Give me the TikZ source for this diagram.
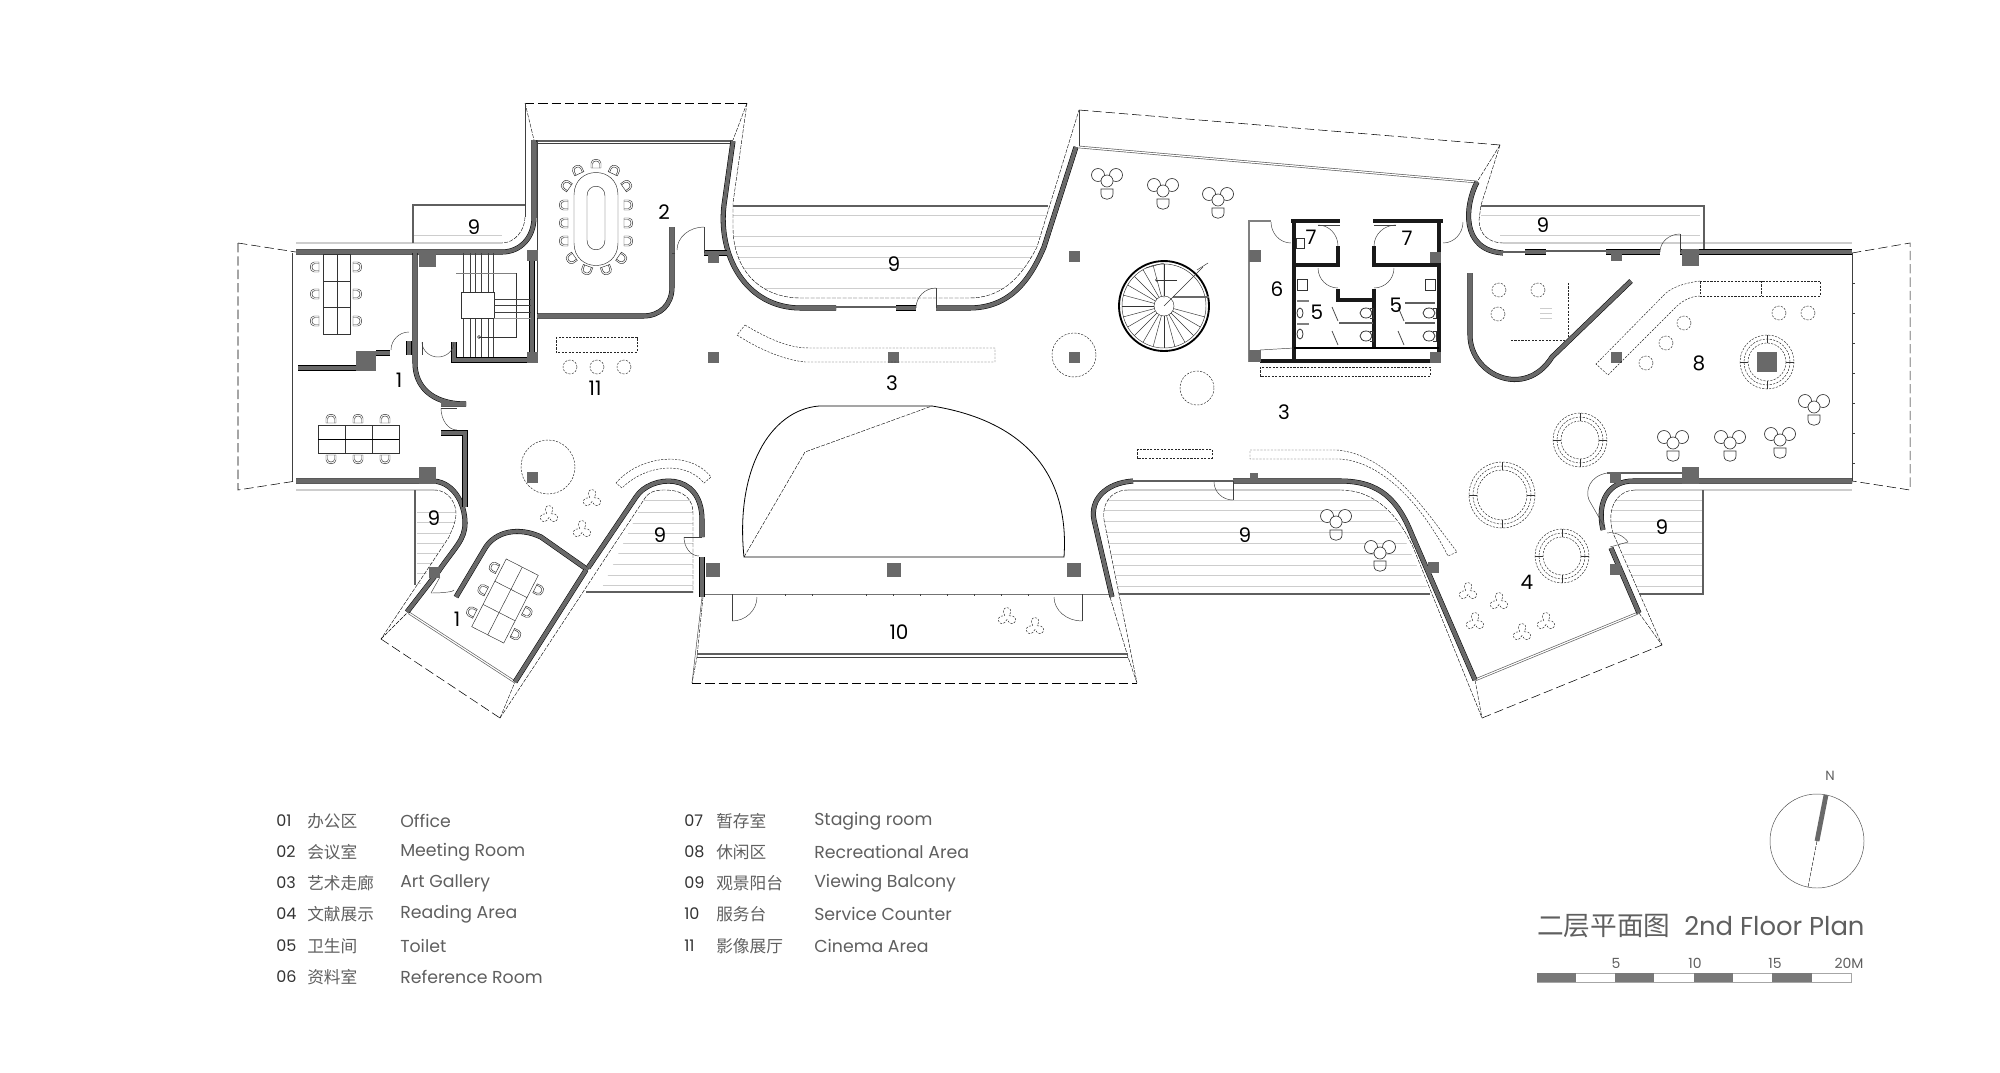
\documentclass[tikz,border=0pt]{standalone}
\usepackage{fontspec}
\setmainfont{Poppins}
\newfontfamily\cjk{Noto Sans CJK SC}
\usetikzlibrary{calc}
\definecolor{wallgray}{RGB}{105,105,105}
\definecolor{railgray}{RGB}{95,95,95}
\definecolor{hatchgray}{RGB}{205,205,205}
\definecolor{textgray}{RGB}{95,95,95}
\tikzset{every picture/.style={line width=0.4pt}}
\tikzset{
  wall/.style={draw=black,double=wallgray,double distance=3pt,line width=0.4pt},
  blackwall/.style={draw=black!90,line width=2.3pt},
  rail/.style={draw=railgray,line width=1pt},
  railpair/.style={draw=railgray,double=white,double distance=0.9pt,line width=0.5pt},
  palerail/.style={draw=hatchgray,line width=1.1pt},
  hatch/.style={draw=hatchgray,line width=0.5pt},
  thin line/.style={draw=black!75,line width=0.35pt},
  roof/.style={draw=black,line width=0.4pt,dash pattern={on 7pt off 3pt}},
  edge dash/.style={draw=black,line width=0.3pt,dash pattern={on 3pt off 1pt}},
  fine dash/.style={draw=black!85,line width=0.35pt,dash pattern={on 1.6pt off 1pt}},
  furn/.style={draw=black!80,line width=0.35pt},
  pillar/.style={fill=wallgray,draw=none,inner sep=0pt},
  room/.style={font=\fontsize{15}{15}\selectfont,text=black,inner sep=0pt},
  legnum/.style={font=\fontsize{12}{12}\selectfont,text=black!80,anchor=west,inner sep=0pt},
  legcn/.style={font=\cjk\fontsize{12.5}{12.5}\selectfont,text=textgray,anchor=west,inner sep=0pt},
  legen/.style={font=\fontsize{13}{13}\selectfont,text=textgray,anchor=west,inner sep=0pt},
  scalenum/.style={font=\fontsize{10.5}{10.5}\selectfont,text=textgray,inner sep=0pt},
}
% door swing: start, corner, end
\newcommand{\doorswing}[3]{\draw[thin line] (#1) .. controls ($(#1)!.55!(#2)$) and ($(#3)!.55!(#2)$) .. (#3);}
% ring of seats
\newcommand{\seatring}[3]{\draw[fine dash] (#1,#2) circle (#3); \draw[fine dash] (#1,#2) circle ({#3-4}); \draw[fine dash] (#1,#2) circle ({#3-8});
  \foreach \a in {0,90,180,270} \draw[furn] ($(#1,#2)+(\a:#3-8)$) -- ($(#1,#2)+(\a:#3)$);}
% chair: x, y, turn
\newcommand{\chairat}[3]{\begin{scope}[shift={(#1,#2)},rotate=#3]
  \draw[furn,fill=white] (-5,3) -- (-5,-2) .. controls (-5,-7) and (5,-7) .. (5,-2) -- (5,3) -- cycle;
  \draw[furn] (-3.5,3) -- (-3.5,-1) .. controls (-3.5,-5) and (3.5,-5) .. (3.5,-1) -- (3.5,3);
\end{scope}}
% round table with three seats
\newcommand{\tableset}[2]{\begin{scope}[shift={(#1,#2)}]
  \draw[furn,line width=0.5pt,fill=white] (-9,-6) circle (6.5);
  \draw[furn,line width=0.5pt,fill=white] (9,-6) circle (6.5);
  \draw[furn,line width=0.5pt,fill=white] (0,0) circle (6);
  \draw[furn,line width=0.5pt] (-6,8) -- (6,8) -- (6,13) .. controls (6,20) and (-6,20) .. (-6,13) -- cycle;
\end{scope}}
% roof seat outline
\newcommand{\trefoil}[2]{\begin{scope}[shift={(#1,#2)}]
  \draw[fine dash] (-2.2,-1.3) .. controls (-9,-12) and (9,-12) .. (2.2,-1.3) .. controls (14.89,-1.79) and (5.89,13.79) .. (0,2.5) .. controls (-5.89,13.79) and (-14.89,-1.79) .. (-2.2,-1.3) -- cycle;
\end{scope}}
\begin{document}
\begin{tikzpicture}[x=0.75pt,y=0.75pt,yscale=-1,xscale=1]
\useasboundingbox (0,0) rectangle (2000,1072);

%Hatch of the balconies
\begin{scope}
\clip (733,206) -- (733,227) .. controls (733,270) and (760,298) .. (801,298) -- (969,298) .. controls (1000,298) and (1020,280) .. (1037,247) -- (1050,206) -- cycle;
\foreach \y in {215,236,246,257,268,288} \draw[hatch] (720,\y) -- (1060,\y);
\end{scope}
\begin{scope}
\clip (1128,490) -- (1340,490) .. controls (1375,490) and (1395,515) .. (1405,540) -- (1430,594) -- (1119,594) -- (1105,530) .. controls (1100,505) and (1110,490) .. (1128,490) -- cycle;
\foreach \y in {500,510,521,532,543,554,565,575,586} \draw[hatch] (1095,\y) -- (1440,\y);
\end{scope}
\begin{scope}
\clip (1635,490) -- (1703,490) -- (1703,594) -- (1639,594) -- (1610,520) .. controls (1608,505) and (1620,490) .. (1635,490) -- cycle;
\foreach \y in {500,510,521,532,543,554,565,575,586} \draw[hatch] (1600,\y) -- (1710,\y);
\end{scope}
\begin{scope}
\clip (417,490) -- (434,490) .. controls (450,490) and (456,505) .. (456,513) .. controls (456,525) and (449,535) .. (440,550) -- (417,590) -- cycle;
\foreach \y in {512,522,533,543,553,563,573,583} \draw[hatch] (417,\y) -- (460,\y);
\end{scope}
\begin{scope}
\clip (600,592) -- (693,592) -- (693,513) .. controls (693,495) and (680,490) .. (665,490) .. controls (655,490) and (648,490) .. (645,498) -- cycle;
\foreach \y in {500,512,523,533,543,553,564,575,585} \draw[hatch] (590,\y) -- (700,\y);
\end{scope}
\draw[hatch] (413,235) -- (502,235);
\draw[hatch] (1481,215) -- (1700,215);
\draw[hatch] (1500,235) -- (1700,235);

%Roof overhang
\draw[roof] (238,243) -- (296,252);
\draw[roof] (238,243) -- (238,490) -- (296,481);
\draw[roof] (525,103) -- (747,103);
\draw[edge dash] (525,103) -- (534,140);
\draw[edge dash] (747,103) -- (733,140);
\draw[roof] (1079,110) -- (1500,145);
\draw[thin line] (1079,110) -- (1079,147);
\draw[edge dash] (1500,145) -- (1477,182);
\draw[roof] (1852,253) -- (1910,243) -- (1910,490) -- (1852,481);
\draw[roof] (692,683) -- (1137,683);
\draw[edge dash] (703,597) -- (697,657) -- (692,683);
\draw[edge dash] (1110,597) -- (1128,657) -- (1137,683);
\draw[roof] (381,639) -- (500,718);
\draw[edge dash] (381,639) -- (407,613);
\draw[edge dash] (500,718) -- (515,682);
\draw[roof] (1482,718) -- (1662,645);
\draw[edge dash] (1475,680) -- (1482,718);
\draw[edge dash] (1639,613) -- (1662,645);

%Inner edges of the balconies
\draw[thin line] (525,103) -- (525,217);
\draw[edge dash] (525,217) .. controls (525,230) and (515,243) .. (502,243);
\draw[palerail] (296,243) -- (502,243);
\draw[palerail] (296,490) -- (434,490);
\draw[edge dash] (434,490) .. controls (450,490) and (456,505) .. (456,513) .. controls (456,525) and (449,535) .. (449,537) -- (381,639);
\draw[edge dash] (747,103) -- (733,203) -- (733,227) .. controls (733,270) and (760,298) .. (801,298) -- (969,298) .. controls (1000,298) and (1020,280) .. (1037,247) -- (1079,110);
\draw[edge dash] (1500,145) -- (1481,205) -- (1479,220) .. controls (1479,235) and (1490,243) .. (1503,243);
\draw[palerail] (1503,243) -- (1852,243);
\draw[palerail] (1128,490) -- (1340,490);
\draw[edge dash] (1128,490) .. controls (1110,490) and (1100,505) .. (1105,525) -- (1137,683);
\draw[edge dash] (1340,490) .. controls (1375,490) and (1398,515) .. (1413,547) -- (1482,718);
\draw[palerail] (1635,490) -- (1852,490);
\draw[edge dash] (1635,490) .. controls (1620,490) and (1605,505) .. (1613,533) -- (1662,645);
\draw[edge dash] (500,718) -- (645,498) .. controls (650,490) and (660,490) .. (665,490) .. controls (685,490) and (693,500) .. (693,513) -- (693,593);
\draw[thin line] (702,597) -- (692,683);

%Balcony rails
\draw[rail] (413,243) -- (413,205) -- (525,205);
\draw[rail] (415,490) -- (415,585);
\draw[rail] (586,592) -- (693,592);
\draw[rail] (733,206) -- (1048,206);
\draw[rail] (1119,594) -- (1430,594);
\draw[rail] (1639,594) -- (1703,594) -- (1703,490);
\draw[rail] (1481,206) -- (1704,206) -- (1704,250);
\draw[rail] (534,141) -- (733,141);
\draw[thin line] (537,143) -- (731,143);
\draw[railpair] (1079,147) -- (1477,182);
\draw[railpair] (409,613) -- (515,682);
\draw[railpair] (1475,680) -- (1638,613);
\draw[rail] (697,654) -- (1128,654);
\draw[thin line] (697,657) -- (1128,657);
\draw[thin line,draw=black!55] (703,594) -- (1110,594);
\foreach \x in {785,812,866,893,920,947,974,1001,1028} \draw[thin line] (\x,594) -- (\x,596);
\draw[thin line] (292,253) -- (292,481);
\draw[thin line] (1852,253) -- (1852,481);
\foreach \y in {283,313,343,373,403,433,463} \draw[thin line] (1852,\y) -- (1855,\y);

%Outer walls
\draw[wall] (296,252) -- (502,252) .. controls (520,252) and (534,238) .. (534,217) -- (534,140);
\draw[wall] (733,141) -- (724,205) .. controls (718,255) and (745,308) .. (801,308) -- (836,308);
\draw[rail] (836,307) -- (896,307);
\draw[wall] (896,308) -- (916,308);
\draw[wall] (936,308) -- (969,308) .. controls (1010,308) and (1030,280) .. (1044,247) -- (1076,147);
\draw[wall] (1477,182) .. controls (1465,205) and (1460,250) .. (1503,253);
\draw[rail] (1503,252) -- (1525,252);
\draw[wall] (1525,252) -- (1546,252);
\draw[rail] (1546,251) -- (1606,251);
\draw[wall] (1606,252) -- (1660,252);
\draw[wall] (1680,252) -- (1852,252);
\draw[wall] (296,481) -- (434,481) .. controls (455,483) and (465,505) .. (465,523) .. controls (465,540) and (455,547) .. (438,572) -- (407,612);
\draw[wall] (465,507) -- (465,433) -- (441,433);
\draw[wall] (415,253) -- (415,363) .. controls (415,385) and (430,404) .. (466,404) -- (441,404);
\draw[wall] (456,597) -- (484,550) .. controls (495,530) and (520,527) .. (541,537) -- (588,570);
\draw[wall] (586,570) -- (515,682);
\draw[wall] (588,568) -- (636,497) .. controls (650,475) and (702,470) .. (702,520) -- (702,537);
\draw[wall] (702,557) -- (702,597);
\draw[rail] (1133,481) -- (1233,481);
\draw[wall] (1133,481) .. controls (1105,483) and (1090,500) .. (1094,520) -- (1112,597);
\draw[wall] (1233,481) -- (1340,481) .. controls (1380,481) and (1398,500) .. (1412,535) -- (1475,680);
\draw[wall] (1603,530) .. controls (1596,500) and (1610,481) .. (1633,481) -- (1852,481);
\draw[wall] (1611,548) -- (1639,613);
\draw[wall] (298,368) -- (356,368);
\draw[wall] (376,353) -- (390,353);
\draw[wall] (532,255) -- (532,360) -- (454,360) -- (454,342);
\draw[thin line] (537,140) -- (537,360);
\draw[wall] (537,316) -- (643,316) .. controls (660,316) and (672,305) .. (672,287) -- (672,227);
\draw[wall] (727,253) -- (704,253);
\draw[thin line] (704,253) -- (704,227);
\draw[thin line] (675,253) -- (672,253);
\draw[wall] (409,341) -- (409,355);
\draw[thin line] (422,342) -- (422,355);
\draw[wall] (1470,273) -- (1470,335) .. controls (1470,375) and (1525,400) .. (1552,357) -- (1631,281);

%Toilet block
\draw[blackwall] (1294,221) -- (1294,360);
\draw[blackwall] (1439,221) -- (1439,360);
\draw[blackwall] (1291,221) -- (1340,221);
\draw[blackwall] (1373,221) -- (1443,221);
\draw[blackwall] (1260,361) -- (1439,361);
\draw[black,line width=1.2pt] (1294,348) -- (1439,348);
\draw[blackwall] (1294,265) -- (1338,265) -- (1338,246);
\draw[blackwall] (1374,246) -- (1374,265) -- (1439,265);
\draw[blackwall] (1338,289) -- (1338,300) -- (1374,300) -- (1374,289);
\draw[blackwall] (1374,289) -- (1374,347);
\draw[draw=gray,line width=1.2pt] (1249,362) -- (1249,221) -- (1271,221);
\draw[thin line] (1260,350) -- (1294,348);
\draw[thin line] (1318,225) -- (1340,225);
\draw[thin line] (1374,225) -- (1396,225);
\doorswing{1318,225}{1338,225}{1338,246}
\doorswing{1396,225}{1374,225}{1374,246}
\doorswing{1318,268}{1318,288}{1338,288}
\doorswing{1394,268}{1394,288}{1374,288}
\doorswing{1271,222}{1271,243}{1291,243}
\doorswing{1443,243}{1463,243}{1463,222}
\draw[rail] (1339,323) -- (1373,323);
\draw[rail] (1405,303) -- (1435,303);
\draw[rail] (1405,323) -- (1435,323);
\draw[draw=gray,line width=1.2pt] (1297,301) -- (1309,301);
\draw[draw=gray,line width=1.2pt] (1297,324) -- (1309,324);
\foreach \x/\y in {1332/307,1332/331,1398/307,1398/331} \draw[draw=black!70,line width=0.6pt] (\x,\y) -- ++(6,14);
\foreach \x/\y in {1366/313,1366/336,1429/313,1429/336} {\draw[furn,line width=0.6pt] (\x,\y) ellipse (6 and 5); \draw[furn,line width=0.6pt] (\x+4,\y-5) -- (\x+7,\y-5) -- (\x+7,\y+5) -- (\x+4,\y+5);}
\foreach \x/\y in {1300/313,1300/334} \draw[furn,line width=0.6pt] (\x,\y) ellipse (3 and 5);
\draw[furn] (1297,279) rectangle (1307,290);
\draw[furn] (1425,279) rectangle (1435,290);
\draw[furn] (1296,238) rectangle (1304,248);
\draw[fine dash] (1260,367) rectangle (1430,376);

%Doors
\doorswing{916,308}{916,288}{936,288}
\draw[thin line] (936,288) -- (936,308);
\doorswing{1660,252}{1660,234}{1680,234}
\draw[thin line] (1680,234) -- (1680,252);
\doorswing{677,250}{677,227}{704,227}
\doorswing{391,350}{391,332}{409,332}
\doorswing{422,342}{422,357}{438,357}
\doorswing{454,342}{454,357}{438,357}
\doorswing{441,408}{441,430}{457,430}
\draw[thin line] (441,408) -- (457,408);
\doorswing{431,593}{454,593}{454,590}
\draw[thin line] (431,593) -- (440,577);
\draw[thin line] (684,537) -- (702,537);
\doorswing{684,537}{684,556}{699,556}
\draw[thin line] (732,594) -- (732,621);
\doorswing{732,621}{757,621}{757,597}
\draw[thin line] (1082,594) -- (1082,621);
\doorswing{1082,621}{1054,621}{1054,597}
\draw[thin line] (1233,481) -- (1233,500);
\doorswing{1214,482}{1214,500}{1233,500}
\draw[rail] (1607,473) -- (1682,473);
\draw[thin line] (1607,473) .. controls (1590,476) and (1585,490) .. (1589,500) -- (1605,528);
\draw[thin line] (1610,547) -- (1628,542);
\doorswing{1628,542}{1620,530}{1607,533}

%Stair
\foreach \x in {463,470,475,481,488,493} {\draw[thin line] (\x,253) -- (\x,292); \draw[thin line] (\x,318) -- (\x,357);}
\draw[furn,line width=0.5pt] (461,292) rectangle (494,318);
\draw[furn,draw=black!50] (456,273) -- (516,273);
\draw[furn] (516,273) -- (516,337) -- (479,337);
\draw[furn] (479,337) circle (1.5);
\foreach \y in {299,305,312} \draw[thin line] (494,\y) -- (531,\y);
\draw[thin line,draw=black!40] (494,318) -- (531,318);

%Spiral stair
\draw[draw=black,line width=1.4pt] (1164,306) circle (45);
\draw[furn] (1164,306) circle (42);
\draw[furn] (1164,306) circle (10);
\foreach \a in {15,30,...,270} \draw[furn] ($(1164,306)+(\a:10)$) -- ($(1164,306)+(\a:42)$);
\draw[wall,double distance=1pt] (1173,297) -- (1209,297);
\draw[furn] (1164,298) -- (1164,263) -- (1146,268);
\draw[furn] (1164,306) -- (1203,267);
\draw[furn] (1197,270) -- (1208,263);
\draw[furn,->] (1177,280) -- (1155,280);

%Pillars
\foreach \x/\y/\s [count=\i] in {427/258/17,532/255/11,532/357/11,366/361/20,713/257/11,713/357/11,893/357/11,1074/256/11,1074/357/11,427/475/17,532/477/11,434/572/11,713/570/14,894/570/14,1074/570/14,1254/477/8,1616/255/11,1690/257/17,1255/256/12,1255/356/12,1435/257/11,1435/357/11,1616/357/11,1767/362/20,1615/477/11,1690/475/17,1433/567/11,1615/569/11}
  \node[pillar,minimum size=\s*0.75pt] (pillar\i) at (\x,\y) {};

%Meeting table
\draw[furn] (574,195) .. controls (574,165) and (618,165) .. (618,195) -- (618,243) .. controls (618,273) and (574,273) .. (574,243) -- cycle;
\draw[furn] (587,196) .. controls (587,183) and (605,183) .. (605,196) -- (605,240) .. controls (605,253) and (587,253) .. (587,240) -- cycle;
\foreach \x/\y/\a in {596/165/0,578/171/-25,614/171/25,567/186/-55,626/186/55,565/205/-90,565/223/-90,565/241/-90,627/205/90,627/223/90,627/241/90,572/258/-125,621/258/125,587/269/-160,606/269/160} {\chairat{\x}{\y}{\a}}

%Office tables
\draw[furn] (323,254) rectangle (350,334);
\draw[furn] (337,254) -- (337,334);
\draw[furn] (323,281) -- (350,281);
\draw[furn] (323,307) -- (350,307);
\foreach \y in {267,294,321} {\chairat{316}{\y}{-90} \chairat{356}{\y}{90}}
\draw[furn] (318,425) rectangle (399,453);
\draw[furn] (345,425) -- (345,453);
\draw[furn] (372,425) -- (372,453);
\draw[furn,draw=black] (318,439) -- (399,439);
\foreach \x in {331,358,385} {\chairat{\x}{420}{0} \chairat{\x}{458}{180}}
\begin{scope}[shift={(505,601)},rotate=-63]
\draw[furn] (-38,-18) rectangle (38,18);
\draw[furn] (-13,-18) -- (-13,18);
\draw[furn] (13,-18) -- (13,18);
\draw[furn] (-38,0) -- (38,0);
\foreach \x in {-25,0,25} {\chairat{\x}{-24}{0} \chairat{\x}{24}{180}}
\end{scope}

%Benches and round seats
\draw[fine dash] (556,337) rectangle (637,352);
\foreach \x in {570,597,624} \draw[fine dash] (\x,367) circle (7);
\draw[fine dash] (548,467) circle (27);
\draw[fine dash] (616,483) .. controls (640,455) and (690,450) .. (711,477) -- (704,483) .. controls (685,460) and (645,465) .. (622,488) -- cycle;
\draw[fine dash] (745,325) .. controls (770,340) and (790,348) .. (809,348) -- (995,348) -- (995,362) -- (805,362) .. controls (785,360) and (760,350) .. (737,335) -- cycle;
\draw[fine dash] (1074,355) circle (22);
\draw[fine dash] (1197,388) circle (17);
\draw[fine dash] (1137,449) rectangle (1212,458);
\draw[fine dash] (1250,450) -- (1337,450) .. controls (1390,455) and (1425,510) .. (1457,552) -- (1448,556) .. controls (1425,510) and (1385,462) .. (1340,459) -- (1250,459) -- cycle;

%Dome
\draw[thin line,draw=black,line width=0.6pt] (744,557) .. controls (735,470) and (770,410) .. (819,406) -- (932,406) .. controls (1020,420) and (1070,470) .. (1064,557) -- cycle;
\draw[edge dash] (744,557) -- (805,452) -- (932,406);

%Recreational area
\draw[fine dash] (1568,283) -- (1568,337);
\draw[fine dash] (1511,340) -- (1566,340);
\foreach \x/\y in {1499/290,1538/290,1498/314,1779/313,1808/313,1684/323,1666/343,1646/363} \draw[fine dash] (\x,\y) circle (7);
\draw[hatch] (1540,308) -- (1552,308);
\draw[hatch] (1540,313) -- (1552,313);
\draw[hatch] (1540,318) -- (1552,318);
\draw[fine dash] (1700,281) -- (1820,281) -- (1820,296) -- (1700,296) -- cycle;
\draw[fine dash] (1761,281) -- (1761,296);
\draw[fine dash] (1700,281) .. controls (1685,283) and (1670,287) .. (1662,297) -- (1596,364) -- (1608,375) -- (1673,310) .. controls (1680,302) and (1690,296) .. (1700,296);
\seatring{1767}{362}{27}
\seatring{1580}{440}{27}
\seatring{1502}{495}{33}
\seatring{1562}{556}{27}

%Table sets
\foreach \x/\y in {1107/181,1163/191,1218/200,1814/407,1673/443,1730/443,1780/440,1336/522,1380/553} {\tableset{\x}{\y}}
\foreach \x/\y in {592/499,549/515,582/530,1007/617,1035/627,1468/592,1499/602,1475/622,1522/633,1546/622} {\trefoil{\x}{\y}}

% Text Node
\node[room] (office a) at (399,380) {1};
\node[room] (office b) at (457,619) {1};
\node[room] (meeting) at (664,212) {2};
\node[room] (gallery a) at (892,383) {3};
\node[room] (gallery b) at (1284,412) {3};
\node[room] (reading) at (1527,582) {4};
\node[room] (toilet a) at (1317,312) {5};
\node[room] (toilet b) at (1396,305) {5};
\node[room] (reference) at (1277,289) {6};
\node[room] (staging a) at (1311,237) {7};
\node[room] (staging b) at (1407,238) {7};
\node[room] (recreation) at (1699,363) {8};
\node[room] (balcony a) at (474,227) {9};
\node[room] (balcony b) at (894,264) {9};
\node[room] (balcony c) at (1543,225) {9};
\node[room] (balcony d) at (434,518) {9};
\node[room] (balcony e) at (660,535) {9};
\node[room] (balcony f) at (1245,535) {9};
\node[room] (balcony g) at (1662,527) {9};
\node[room] (service) at (899,632) {10};
\node[room] (cinema) at (595,388) {11};

% Legend
\node[legnum] (num a) at (276,821) {01};
\node[legcn] (cn a) at (307,821) {办公区};
\node[legen] (en a) at (400,821) {Office};
\node[legnum] (num b) at (276,852) {02};
\node[legcn] (cn b) at (307,852) {会议室};
\node[legen] (en b) at (400,852) {Meeting Room};
\node[legnum] (num c) at (276,883) {03};
\node[legcn] (cn c) at (307,883) {艺术走廊};
\node[legen] (en c) at (400,883) {Art Gallery};
\node[legnum] (num d) at (276,914) {04};
\node[legcn] (cn d) at (307,914) {文献展示};
\node[legen] (en d) at (400,914) {Reading Area};
\node[legnum] (num e) at (276,946) {05};
\node[legcn] (cn e) at (307,946) {卫生间};
\node[legen] (en e) at (400,946) {Toilet};
\node[legnum] (num f) at (276,977) {06};
\node[legcn] (cn f) at (307,977) {资料室};
\node[legen] (en f) at (400,977) {Reference Room};
\node[legnum] (num g) at (684,821) {07};
\node[legcn] (cn g) at (716,821) {暂存室};
\node[legen] (en g) at (814,821) {Staging room};
\node[legnum] (num h) at (684,852) {08};
\node[legcn] (cn h) at (716,852) {休闲区};
\node[legen] (en h) at (814,852) {Recreational Area};
\node[legnum] (num i) at (684,883) {09};
\node[legcn] (cn i) at (716,883) {观景阳台};
\node[legen] (en i) at (814,883) {Viewing Balcony};
\node[legnum] (num j) at (684,914) {10};
\node[legcn] (cn j) at (716,914) {服务台};
\node[legen] (en j) at (814,914) {Service Counter};
\node[legnum] (num k) at (684,946) {11};
\node[legcn] (cn k) at (716,946) {影像展厅};
\node[legen] (en k) at (814,946) {Cinema Area};

% Compass
\coordinate (north) at (1817,841);
\draw[draw=black!70,line width=0.35pt] (north) circle (47);
\draw[draw=wallgray,line width=3.6pt] (1826,795) -- (north);
\draw[edge dash] (north) -- (1808,887);
\node[scalenum,font=\fontsize{10}{10}\selectfont] (north label) at (1830,776) {N};

% Title
\node[font=\cjk\fontsize{20}{20}\selectfont,text=textgray,anchor=west,inner sep=0pt] (title cn) at (1537,926) {二层平面图};
\node[font=\fontsize{19.4}{19.4}\selectfont,text=textgray,anchor=west,inner sep=0pt] (title en) at (1684,926) {2nd Floor Plan};

% Scale bar
\draw[draw=black!35] (1537,973) rectangle (1851,982);
\foreach \x/\y in {1537/1576,1615/1654,1694/1733,1772/1812} \fill[wallgray!90] (\x,973) rectangle (\y,982);
\node[scalenum] (five) at (1616,963) {5};
\node[scalenum] (ten) at (1695,963) {10};
\node[scalenum] (fifteen) at (1775,963) {15};
\node[scalenum] (twenty) at (1849,963) {20M};
\end{tikzpicture}
\end{document}
